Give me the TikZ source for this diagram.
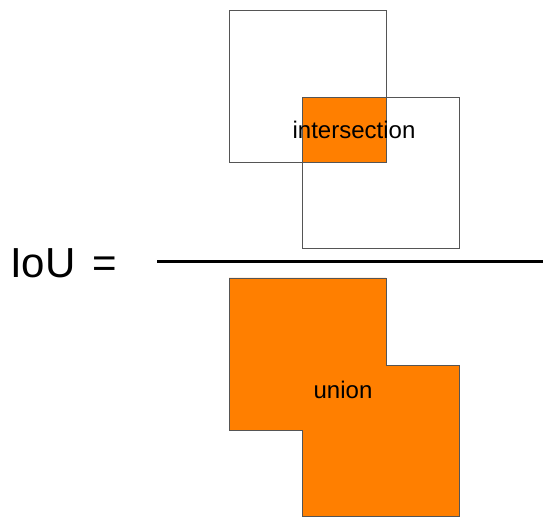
\documentclass[tikz,border=0pt]{standalone}
\usepackage{fontspec}
\setmainfont{Liberation Sans}
\definecolor{iouorange}{HTML}{FF7F00}
\definecolor{edgegray}{HTML}{555555}
\begin{document}
\begin{tikzpicture}[x=1pt,y=-1pt,
  box/.style={draw=edgegray,line width=0.9pt},
  fillbox/.style={fill=iouorange,draw=edgegray,line width=0.7pt},
  lbl/.style={inner sep=0pt,font=\fontsize{24}{27}\selectfont}]
\useasboundingbox (0,0) rectangle (543,518);
% numerator
\fill[iouorange] (302,97) rectangle (386,162);
\draw[box] (229,10) rectangle (386,162);
\draw[box] (302,97) rectangle (459,248);
\node[lbl] (inter) at (354,130) {intersection};
% fraction bar
\coordinate (barL) at (157,262);
\coordinate (barR) at (543,262);
\draw[line width=3pt] (barL) -- (barR);
\node[inner sep=0pt,anchor=west,font=\fontsize{42}{46}\selectfont] (iou) at (10,263) {IoU\hspace{0.4em}=};
% denominator
\draw[fillbox] (229,278) -- (386,278) -- (386,365) -- (459,365) -- (459,516) -- (302,516) -- (302,430) -- (229,430) -- cycle;
\node[lbl] (union) at (343,390) {union};
\end{tikzpicture}
\end{document}
